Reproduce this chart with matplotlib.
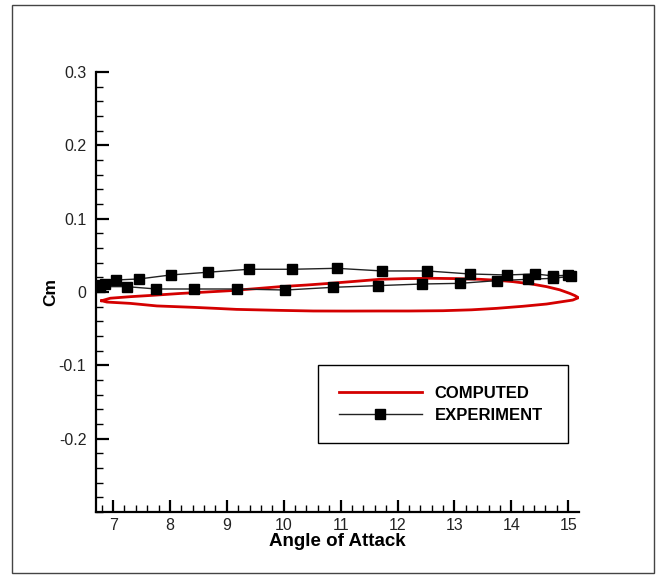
import matplotlib
matplotlib.use("Agg")
import matplotlib.pyplot as plt
from matplotlib.ticker import MultipleLocator, FixedLocator
from matplotlib.patches import Rectangle

plt.rcParams['font.family'] = ['Liberation Sans', 'DejaVu Sans']

# Computed hysteresis loop (alpha, Cm)
comp_alpha = [6.80, 6.95, 7.30, 7.70, 8.18, 8.60, 9.06, 9.50, 9.94, 10.40, 10.81, 11.25,
              11.69, 12.10, 12.57, 13.00, 13.45, 13.75, 14.03, 14.35, 14.62, 14.85, 15.03,
              15.12, 15.18, 15.08, 14.62, 14.20, 13.74, 13.30, 12.80, 12.20, 11.69, 11.10,
              10.52, 9.90, 9.17, 8.80, 8.41, 7.77, 7.30, 6.89, 6.80]
comp_cm = [-0.0119, -0.0085, -0.0064, -0.0045, -0.0020, -0.0002, 0.0018, 0.0045, 0.0073,
           0.0095, 0.0118, 0.0145, 0.0173, 0.0182, 0.0187, 0.0183, 0.0173, 0.0160, 0.0141,
           0.0110, 0.0073, 0.0030, -0.0020, -0.0050, -0.0078, -0.0110, -0.0164, -0.0195,
           -0.0223, -0.0243, -0.0255, -0.0259, -0.0259, -0.0260, -0.0259, -0.0250, -0.0237,
           -0.0223, -0.0209, -0.0190, -0.0155, -0.0137, -0.0119]

# Experiment loop: lower branch then upper branch
exp_alpha = [6.77, 7.24, 7.76, 8.42, 9.18, 10.03, 10.87, 11.66, 12.43, 13.10, 13.74, 14.30,
             14.74, 15.05, 15.00, 14.74, 14.42, 13.92, 13.27, 12.52, 11.73, 10.93, 10.15,
             9.39, 8.66, 8.01, 7.46, 7.05, 6.85, 6.77]
exp_cm = [0.0073, 0.0073, 0.0041, 0.0041, 0.0041, 0.0027, 0.0064, 0.0087, 0.0109, 0.0118,
          0.0155, 0.0173, 0.0187, 0.0215, 0.0230, 0.0219, 0.0246, 0.0232, 0.0246, 0.0287,
          0.0287, 0.0323, 0.0310, 0.0310, 0.0269, 0.0232, 0.0178, 0.0164, 0.0110, 0.0095]

xticks = [7, 8, 9, 10, 11, 12, 13, 14, 15]
yticks = [-0.2, -0.1, 0, 0.1, 0.2, 0.3]
yticklabels = ['-0.2', '-0.1', '0', '0.1', '0.2', '0.3']

fig = plt.figure(figsize=(6.62, 5.75), dpi=100)
fig.add_artist(Rectangle((12 / 662, 1 - 573 / 575), 642 / 662, 568 / 575,
                         transform=fig.transFigure, fill=False, edgecolor='#444444', lw=1.0))

ax = fig.add_axes([96 / 662, 1 - 512 / 575, 483 / 662, 440 / 575])
ax.plot(comp_alpha, comp_cm, color='#d40000', lw=2.0, label='COMPUTED', zorder=2)
ax.plot(exp_alpha, exp_cm, color='#222222', lw=1.0, marker='s', markersize=7.5,
        markerfacecolor='black', markeredgecolor='black', label='EXPERIMENT', zorder=3)

ax.set_xlim(6.70, 15.19)
ax.set_ylim(-0.3, 0.3)
ax.xaxis.set_major_locator(FixedLocator(xticks))
ax.xaxis.set_minor_locator(MultipleLocator(0.2))
ax.yaxis.set_major_locator(FixedLocator(yticks))
ax.set_yticklabels(yticklabels)
ax.yaxis.set_minor_locator(MultipleLocator(0.02))

for s in ['top', 'right']:
    ax.spines[s].set_visible(False)
for s in ['left', 'bottom']:
    ax.spines[s].set_linewidth(1.6)
    ax.spines[s].set_color('black')

ax.tick_params(which='major', direction='in', length=9, width=1.6, labelsize=11.5,
               labelcolor='#222222')
ax.tick_params(which='minor', direction='in', length=5, width=1.0)
ax.tick_params(axis='x', which='major', pad=4)
ax.tick_params(axis='y', which='major', pad=7)

ax.set_xlabel('Angle of Attack', fontsize=13.5, fontweight='bold', labelpad=0)
ax.set_ylabel('Cm', fontsize=12.5, fontweight='bold', labelpad=0)

leg = ax.legend(loc='upper left', bbox_to_anchor=(0.4596, 0.148, 0.5174, 0.186),
                mode='expand', frameon=True, fancybox=False, borderpad=1.25,
                handlelength=5.0, handletextpad=0.75, labelspacing=0.4,
                prop={'weight': 'bold', 'size': 12}, borderaxespad=0, framealpha=1)
leg.get_frame().set_edgecolor('black')
leg.get_frame().set_linewidth(1.0)

fig.savefig('out.png', dpi=100)
